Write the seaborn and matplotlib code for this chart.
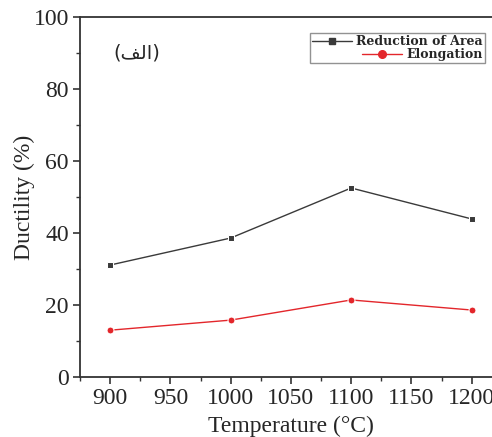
import matplotlib
matplotlib.use("Agg")
import matplotlib.pyplot as plt
import seaborn as sns
import pandas as pd
from matplotlib.ticker import MultipleLocator
from matplotlib.lines import Line2D

temperature = [900, 1000, 1100, 1200]
reduction_of_area = [31.1, 38.6, 52.5, 43.9]
elongation = [13.0, 15.8, 21.4, 18.6]
series_names = ["Reduction of Area", "Elongation"]
x_ticks = [900, 950, 1000, 1050, 1100, 1150, 1200]
y_ticks = [0, 20, 40, 60, 80, 100]
panel_label = "(\ufed2\ufedf\ufe8d)"  # (الف) in shaped visual order

df = pd.DataFrame({
    "Temperature": temperature * 2,
    "Ductility": reduction_of_area + elongation,
    "Series": [series_names[0]] * 4 + [series_names[1]] * 4,
})

sns.set_theme(style="ticks")
plt.rcParams["font.family"] = ["Liberation Serif", "DejaVu Sans"]

BLACK = "#3a3a3a"
RED = "#e3262b"

fig = plt.figure(figsize=(4.92, 4.37), dpi=100)
ax = fig.add_axes([80 / 492, 1 - 377 / 437, 1 - 80 / 492 + 0.02, (377 - 17) / 437])

sns.lineplot(data=df, x="Temperature", y="Ductility", hue="Series", style="Series",
             markers={"Reduction of Area": "s", "Elongation": "o"},
             dashes=False, palette={"Reduction of Area": BLACK, "Elongation": RED},
             markersize=5, linewidth=1.0, ax=ax, legend=False)

ax.set_xlim(875, 1225)
ax.set_ylim(0, 100)
ax.set_xticks(x_ticks)
ax.set_yticks(y_ticks)
ax.xaxis.set_minor_locator(MultipleLocator(25))
ax.yaxis.set_minor_locator(MultipleLocator(10))
ax.tick_params(which="major", length=5, width=1.2, labelsize=17, color="#333333")
ax.tick_params(which="minor", length=3, width=1.0, color="#333333")
ax.tick_params(axis="x", pad=3)
ax.tick_params(axis="y", pad=3)
ax.set_xlabel("Temperature (°C)", fontsize=17, labelpad=5)
ax.set_ylabel("Ductility (%)", fontsize=17, labelpad=-1)
for s in ["left", "bottom", "top"]:
    ax.spines[s].set_linewidth(1.3)
    ax.spines[s].set_color("#333333")
ax.spines["right"].set_visible(False)

ax.text((137 - 80) / 421.8, (377 - 53) / 360, panel_label, transform=ax.transAxes,
        fontsize=14, family=["DejaVu Sans"], ha="center", va="center")

handles = [Line2D([], [], color=BLACK, marker="s", markersize=5, lw=1.0),
           Line2D([], [], color=RED, marker="o", markersize=5.5, lw=1.0)]
leg = fig.legend(handles, series_names, loc="upper right", bbox_to_anchor=(485 / 492, 1 - 33 / 437),
                 prop={"family": "DejaVu Serif", "weight": "bold", "size": 9},
                 frameon=True, fancybox=False, edgecolor="#777777", handlelength=3.2,
                 borderpad=0.15, labelspacing=0.0, handletextpad=0.4, borderaxespad=0,
                 markerfirst=True)
leg.get_frame().set_linewidth(1.0)
for col in leg._legend_handle_box.get_children():
    col.align = "right"

fig.savefig("out.png", dpi=100)
